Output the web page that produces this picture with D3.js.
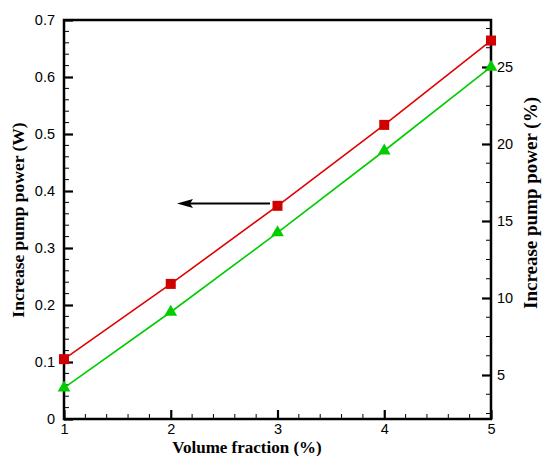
<!DOCTYPE html>
<html><head><meta charset="utf-8">
<script src="https://cdn.jsdelivr.net/npm/d3@7"></script>
<style>body{margin:0;background:#fff}svg{display:block}</style>
</head><body>
<svg id="c" width="542" height="456"></svg>
<script>
const volumeFraction = [1, 2, 3, 4, 5];
const pumpPowerW = [0.105, 0.237, 0.374, 0.516, 0.664];
const pumpPowerPct = [4.16, 9.09, 14.24, 19.56, 25.0];
const xTicks = [1, 2, 3, 4, 5];
const yLeftTicks = [0, 0.1, 0.2, 0.3, 0.4, 0.5, 0.6, 0.7];
const yRightTicks = [5, 10, 15, 20, 25];

const svg = d3.select("#c");
const L = 64, R = 491, T = 20, B = 419;
const x = d3.scaleLinear().domain([1, 5]).range([L, R]);
const yL = d3.scaleLinear().domain([0, 0.7]).range([B, T]);
const yR = d3.scaleLinear().domain([2.143, 28.05]).range([B, T]);

const tickFont = "Liberation Sans, Arial, sans-serif";
const titleFont = "Liberation Serif, Times New Roman, serif";

// minor ticks
const g = svg.append("g");
d3.range(1, 5.001, 0.2).forEach(v => {
  if (xTicks.some(t => Math.abs(t - v) < 1e-6)) return;
  g.append("line").attr("x1", x(v)).attr("x2", x(v)).attr("y1", B).attr("y2", B - 5).attr("stroke", "#000").attr("stroke-width", 1);
});
d3.range(0, 0.7001, 0.02).forEach(v => {
  if (yLeftTicks.some(t => Math.abs(t - v) < 1e-6)) return;
  g.append("line").attr("x1", L).attr("x2", L + 5).attr("y1", yL(v)).attr("y2", yL(v)).attr("stroke", "#000").attr("stroke-width", 1);
});
d3.range(2.5, 28.01, 1.25).forEach(v => {
  if (yRightTicks.some(t => Math.abs(t - v) < 1e-6)) return;
  if (v < 2.143) return;
  g.append("line").attr("x1", R).attr("x2", R - 5).attr("y1", yR(v)).attr("y2", yR(v)).attr("stroke", "#000").attr("stroke-width", 1);
});

// axes with major ticks
const ax = svg.append("g").attr("transform", `translate(0,${B})`)
  .call(d3.axisBottom(x).tickValues(xTicks).tickFormat(d3.format("d")).tickSizeInner(-9).tickSizeOuter(0).tickPadding(5));
const ayl = svg.append("g").attr("transform", `translate(${L},0)`)
  .call(d3.axisLeft(yL).tickValues(yLeftTicks).tickFormat(d => d === 0 ? "0" : d3.format(".1f")(d)).tickSizeInner(-9).tickSizeOuter(0).tickPadding(9));
const ayr = svg.append("g").attr("transform", `translate(${R},0)`)
  .call(d3.axisRight(yR).tickValues(yRightTicks).tickFormat(d3.format("d")).tickSizeInner(-9).tickSizeOuter(0).tickPadding(6));
[ax, ayl, ayr].forEach(a => {
  a.select(".domain").remove();
  a.selectAll(".tick line").attr("stroke", "#000").attr("stroke-width", 2.2);
  a.selectAll("text").attr("font-family", tickFont).attr("font-size", 14.5).attr("fill", "#000");
});

// frame
svg.append("path").attr("d", `M${L},${B}H${R}V${T}H${L}Z`).attr("fill", "none").attr("stroke", "#000").attr("stroke-width", 2.5);

// series
const redLine = d3.line().x((d, i) => x(volumeFraction[i])).y(d => yL(d));
svg.append("path").attr("d", redLine(pumpPowerW)).attr("fill", "none").attr("stroke", "#e00000").attr("stroke-width", 1.6);
const greenLine = d3.line().x((d, i) => x(volumeFraction[i])).y(d => yR(d));
svg.append("path").attr("d", greenLine(pumpPowerPct)).attr("fill", "none").attr("stroke", "#00cc00").attr("stroke-width", 1.6);

svg.selectAll(".sq").data(pumpPowerW).enter().append("rect")
  .attr("x", (d, i) => x(volumeFraction[i]) - 5).attr("y", d => yL(d) - 5)
  .attr("width", 10).attr("height", 10).attr("fill", "#d00000");
const tri = d3.symbol().type(d3.symbolTriangle).size(70);
svg.selectAll(".tr").data(pumpPowerPct).enter().append("path")
  .attr("d", tri).attr("transform", (d, i) => `translate(${x(volumeFraction[i])},${yR(d)})`).attr("fill", "#00cc00");

// arrow
const ay = 203.5;
svg.append("line").attr("x1", 190).attr("x2", 270).attr("y1", ay).attr("y2", ay).attr("stroke", "#000").attr("stroke-width", 2);
svg.append("path").attr("d", `M177,${ay}L193,${ay - 4.5}L190,${ay}L193,${ay + 4.5}Z`).attr("fill", "#000");

// titles
svg.append("text").attr("x", 247).attr("y", 453).attr("text-anchor", "middle")
  .attr("font-family", titleFont).attr("font-weight", "bold").attr("font-size", 17).text("Volume fraction (%)");
svg.append("text").attr("transform", "translate(24,220) rotate(-90)").attr("text-anchor", "middle")
  .attr("font-family", titleFont).attr("font-weight", "bold").attr("font-size", 17.5).text("Increase pump power (W)");
svg.append("text").attr("transform", "translate(537,203) rotate(-90)").attr("text-anchor", "middle")
  .attr("font-family", titleFont).attr("font-weight", "bold").attr("font-size", 19).text("Increase pump power (%)");
</script>
</body></html>
